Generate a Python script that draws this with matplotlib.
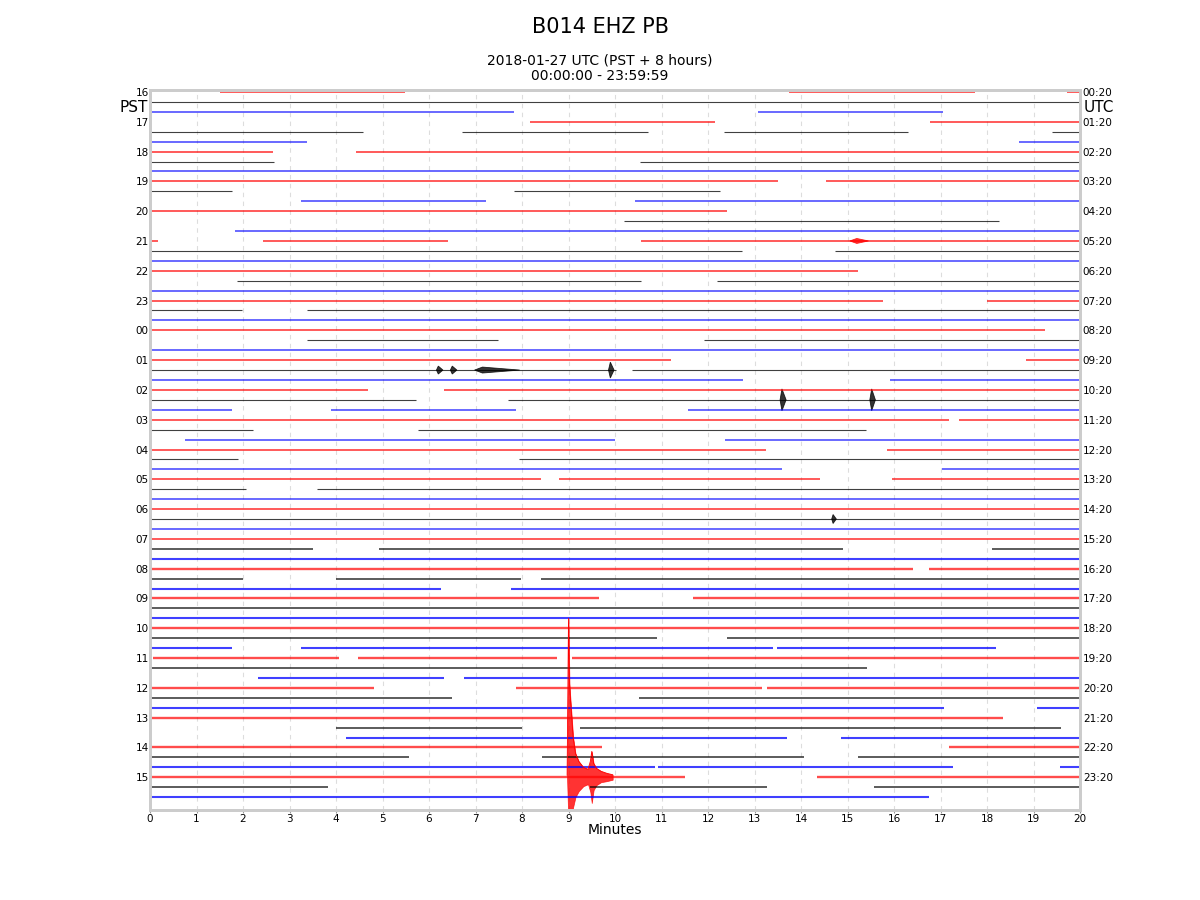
import matplotlib
matplotlib.use("Agg")
import matplotlib.pyplot as plt
import numpy as np

# ---------------- data (minutes within each 20-minute row) ----------------
pst_labels = ["16", "17", "18", "19", "20", "21", "22", "23", "00", "01", "02", "03",
              "04", "05", "06", "07", "08", "09", "10", "11", "12", "13", "14", "15"]
utc_labels = ["00:20", "01:20", "02:20", "03:20", "04:20", "05:20", "06:20", "07:20",
              "08:20", "09:20", "10:20", "11:20", "12:20", "13:20", "14:20", "15:20",
              "16:20", "17:20", "18:20", "19:20", "20:20", "21:20", "22:20", "23:20"]
x_ticks = list(range(0, 21))
trace_colors = ["red", "black", "blue"]

# data segments present in each of the 72 rows: (start_min, end_min)
segments = [
    [(1.51, 5.48), (13.74, 17.74), (19.72, 20)],            # 0  16 red
    [(0, 20)],                                              # 1
    [(0, 7.83), (13.07, 17.05)],                            # 2
    [(8.17, 12.15), (16.77, 20)],                           # 3  17
    [(0, 4.58), (6.71, 10.71), (12.34, 16.3), (19.4, 20)],  # 4
    [(0, 3.38), (18.69, 20)],                               # 5
    [(0, 2.65), (4.43, 20)],                                # 6  18
    [(0, 2.67), (10.54, 20)],                               # 7
    [(0, 20)],                                              # 8
    [(0, 13.51), (14.54, 20)],                              # 9  19
    [(0, 1.76), (7.83, 12.26)],                             # 10
    [(3.25, 7.23), (10.43, 20)],                            # 11
    [(0, 12.4)],                                            # 12 20
    [(10.19, 18.26)],                                       # 13
    [(1.83, 20)],                                           # 14
    [(0, 0.18), (2.43, 6.41), (10.56, 20)],                 # 15 21
    [(0, 12.73), (14.73, 20)],                              # 16
    [(0, 20)],                                              # 17
    [(0, 15.23)],                                           # 18 22
    [(1.88, 10.55), (12.19, 20)],                           # 19
    [(0, 20)],                                              # 20
    [(0, 15.76), (18.0, 20)],                               # 21 23
    [(0, 1.97), (3.38, 20)],                                # 22
    [(0, 20)],                                              # 23
    [(0, 19.25)],                                           # 24 00
    [(3.38, 7.49), (11.91, 20)],                            # 25
    [(0, 20)],                                              # 26
    [(0, 11.2), (18.84, 20)],                               # 27 01
    [(0, 10.02), (10.37, 20)],                              # 28
    [(0, 12.75), (15.91, 20)],                              # 29
    [(0, 4.68), (6.33, 20)],                                # 30 02
    [(0, 5.71), (7.7, 20)],                                 # 31
    [(0, 1.76), (3.89, 7.87), (11.56, 20)],                 # 32
    [(0, 17.18), (17.4, 20)],                               # 33 03
    [(0, 2.21), (5.77, 15.4)],                              # 34
    [(0.75, 10.0), (12.37, 20)],                            # 35
    [(0, 13.24), (15.86, 20)],                              # 36 04
    [(0, 1.89), (7.94, 20)],                                # 37
    [(0, 13.59), (17.03, 20)],                              # 38
    [(0, 8.41), (8.8, 14.41), (15.95, 20)],                 # 39 05
    [(0, 2.06), (3.6, 20)],                                 # 40
    [(0, 20)],                                              # 41
    [(0, 20)],                                              # 42 06
    [(0, 20)],                                              # 43
    [(0, 20)],                                              # 44
    [(0, 20)],                                              # 45 07
    [(0, 3.51), (4.93, 14.9), (18.1, 20)],                  # 46
    [(0, 20)],                                              # 47
    [(0, 16.41), (16.76, 20)],                              # 48 08
    [(0, 2.0), (4.0, 7.98), (8.4, 20)],                     # 49
    [(0, 6.26), (7.76, 20)],                                # 50
    [(0, 9.66), (11.67, 20)],                               # 51 09
    [(0, 20)],                                              # 52
    [(0, 20)],                                              # 53
    [(0, 20)],                                              # 54 10
    [(0, 10.9), (12.41, 20)],                               # 55
    [(0, 1.76), (3.25, 13.4), (13.48, 18.19)],              # 56
    [(0.07, 4.07), (4.48, 8.75), (9.07, 20)],               # 57 11
    [(0, 15.42)],                                           # 58
    [(2.33, 6.33), (6.75, 20)],                             # 59
    [(0, 4.82), (7.87, 13.16), (13.27, 20)],                # 60 12
    [(0, 6.49), (10.52, 20)],                               # 61
    [(0, 17.08), (19.07, 20)],                              # 62
    [(0, 18.34)],                                           # 63 13
    [(4.0, 7.99), (9.25, 19.59)],                           # 64
    [(4.21, 13.69), (14.85, 20)],                           # 65
    [(0, 9.71), (17.18, 20)],                               # 66 14
    [(0, 5.57), (8.42, 14.06), (15.23, 20)],                # 67
    [(0, 10.86), (10.93, 17.27), (19.57, 20)],              # 68
    [(0, 11.5), (14.35, 20)],                               # 69 15
    [(0, 3.83), (9.46, 13.27), (15.57, 20)],                # 70
    [(0, 16.75)],                                           # 71
]

# small local events: row, start, peak, end (minutes), amplitude (row heights)
event_rows = [15, 28, 28, 28, 28, 31, 31, 43]
event_start = [15.05, 6.16, 6.46, 6.98, 9.86, 13.55, 15.48, 14.66]
event_peak = [15.2, 6.2, 6.5, 7.15, 9.9, 13.59, 15.52, 14.69]
event_end = [15.45, 6.3, 6.6, 7.95, 9.98, 13.68, 15.6, 14.76]
event_amp = [0.25, 0.4, 0.4, 0.3, 0.8, 1.1, 1.1, 0.45]

# regional earthquake on row 69 (15:00 PST line): envelope in row heights
quake_row = 69
quake_t = [8.97, 9.00, 9.02, 9.04, 9.07, 9.10, 9.15, 9.22, 9.32, 9.42, 9.47,
           9.50, 9.54, 9.60, 9.70, 9.82, 9.95]
quake_up = [0.2, 16.0, 9.5, 8.0, 6.0, 4.0, 2.4, 1.6, 1.0, 0.8, 1.6,
            2.6, 1.4, 0.9, 0.6, 0.4, 0.25]
quake_dn = [0.2, 5.0, 5.0, 5.0, 4.0, 3.0, 2.0, 1.4, 0.9, 0.7, 1.5,
            2.6, 1.3, 0.8, 0.5, 0.4, 0.25]

# ---------------- figure ----------------
fig = plt.figure(figsize=(12, 9), dpi=100)
ax = fig.add_axes([0.125, 0.1, 0.775, 0.8])

n_rows = len(segments)
for i, segs in enumerate(segments):
    col = trace_colors[i % 3]
    lw = {"red": 1.3, "black": 0.8, "blue": 1.1}[col]
    if i >= 46:
        lw += 0.4
    al = {"red": 0.7, "black": 0.75, "blue": 0.75}[col]
    for s, e in segs:
        ax.hlines(i, s, e, colors=col, linewidth=lw, alpha=al)

for r, s, p, e, a in zip(event_rows, event_start, event_peak, event_end, event_amp):
    col = trace_colors[r % 3]
    ax.fill([s, p, e, p], [r, r - a, r, r + a], facecolor=col, linewidth=0.6,
            edgecolor=col, alpha=0.8)

qt = np.array(quake_t)
ax.fill_between(qt, quake_row - np.array(quake_up), quake_row + np.array(quake_dn),
                color="red", alpha=0.8, linewidth=0.5)
ax.plot(qt, quake_row - np.array(quake_up), color="red", linewidth=0.6)

ax.set_xlim(0, 20)
ax.set_ylim(72.3, -0.2)
ax.set_xticks(x_ticks)
ax.set_xticklabels([str(t) for t in x_ticks], fontsize=7.5)
ax.grid(axis="x", color="#dddddd", linestyle=(0, (4, 4)), linewidth=0.8)
ax.set_axisbelow(True)

hour_rows = list(range(0, n_rows, 3))
ax.set_yticks(hour_rows)
ax.set_yticklabels(pst_labels, fontsize=7.5)
ax.tick_params(axis="y", length=0, pad=1)
ax.tick_params(axis="x", length=2, pad=1, color="#999999")

ax2 = ax.twinx()
ax2.set_ylim(ax.get_ylim())
ax2.set_yticks(hour_rows)
ax2.set_yticklabels(utc_labels, fontsize=7.5)
ax2.tick_params(axis="y", length=0, pad=2)

for a in (ax, ax2):
    for sp in a.spines.values():
        sp.set_color("#cccccc")
        sp.set_linewidth(2.0)

ax.set_xlabel("Minutes", fontsize=10, labelpad=-1)
ax.text(-0.002, 1.6, "PST", transform=ax.get_yaxis_transform(), ha="right",
        va="center", fontsize=11)
ax.text(1.004, 1.6, "UTC", transform=ax.get_yaxis_transform(), ha="left",
        va="center", fontsize=11)

fig.text(0.5, 0.97, "B014 EHZ PB", ha="center", va="center", fontsize=15)
fig.text(0.5, 1 - 61 / 900, "2018-01-27 UTC (PST + 8 hours)", ha="center",
         va="center", fontsize=10)
fig.text(0.5, 1 - 76 / 900, "00:00:00 - 23:59:59", ha="center", va="center",
         fontsize=10)

fig.savefig("out.png", dpi=100)
